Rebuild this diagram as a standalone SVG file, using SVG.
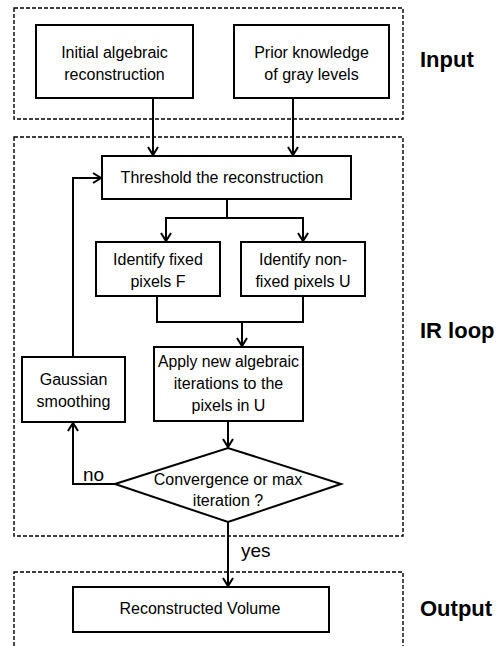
<svg xmlns="http://www.w3.org/2000/svg" width="498" height="646" viewBox="0 0 498 646">
<style>
.grp{fill:none;stroke:#000;stroke-width:1.4;stroke-dasharray:4 2}
.box{fill:#fff;stroke:#000;stroke-width:2}
.t{font-family:"Liberation Sans",Arial,sans-serif;font-size:16px;fill:#000;text-anchor:middle}
.lbl{font-family:"Liberation Sans",Arial,sans-serif;font-size:22px;font-weight:bold;fill:#000}
.yn{font-family:"Liberation Sans",Arial,sans-serif;font-size:19px;fill:#000}
.c{fill:none;stroke:#000;stroke-width:2;marker-end:url(#ah)}
.l{fill:none;stroke:#000;stroke-width:2}
</style>
<defs>
<marker id="ah" markerWidth="12" markerHeight="12" refX="10" refY="6" orient="auto" markerUnits="userSpaceOnUse">
<path d="M2,1 L10,6 L2,11" fill="none" stroke="#000" stroke-width="2"/>
</marker>
</defs>
<g id="group-input"><rect class="grp" x="14" y="8" width="389" height="111"/><text class="lbl" x="420" y="67">Input</text></g>
<g id="group-irloop"><rect class="grp" x="14" y="137" width="389" height="399"/><text class="lbl" x="420" y="338">IR loop</text></g>
<g id="group-output"><rect class="grp" x="14" y="572" width="389" height="80"/><text class="lbl" x="420" y="616">Output</text></g>
<g id="connectors">
<path class="c" d="M153,98 V155"/>
<path class="c" d="M293,98 V155"/>
<path class="l" d="M227,199 V218 M166,218 H303"/>
<path class="c" d="M166,217 V241"/>
<path class="c" d="M303,217 V241"/>
<path class="l" d="M157,296 V322 H303 V296"/>
<path class="c" d="M242,322 V346"/>
<path class="c" d="M228,421 V447"/>
<path class="c" d="M115,484 H73 V423"/>
<path class="c" d="M73,357 V178 H101"/>
<path class="c" d="M228,522 V586"/>
<text class="yn" x="83" y="481">no</text>
<text class="yn" x="241" y="557">yes</text>
</g>
<g id="n-initial"><rect class="box" x="36" y="25" width="157" height="73"/><text class="t" x="114.5" y="58">Initial algebraic</text><text class="t" x="114.5" y="80">reconstruction</text></g>
<g id="n-prior"><rect class="box" x="234" y="25" width="155" height="73"/><text class="t" x="311.5" y="58">Prior knowledge</text><text class="t" x="311.5" y="80">of gray levels</text></g>
<g id="n-threshold"><rect class="box" x="102" y="156" width="249" height="43"/><text class="t" x="222" y="183">Threshold the reconstruction</text></g>
<g id="n-fixed"><rect class="box" x="96" y="242" width="124" height="54"/><text class="t" x="158" y="265">Identify fixed</text><text class="t" x="158" y="287">pixels F</text></g>
<g id="n-nonfixed"><rect class="box" x="241" y="242" width="124" height="54"/><text class="t" x="303" y="265">Identify non-</text><text class="t" x="303" y="287">fixed pixels U</text></g>
<g id="n-apply"><rect class="box" x="154" y="347" width="149" height="74"/><text class="t" x="228.5" y="367" textLength="141" lengthAdjust="spacingAndGlyphs">Apply new algebraic</text><text class="t" x="228.5" y="389">iterations to the</text><text class="t" x="228.5" y="411">pixels in U</text></g>
<g id="n-gauss"><rect class="box" x="22" y="357" width="103" height="65"/><text class="t" x="73.5" y="385">Gaussian</text><text class="t" x="73.5" y="407">smoothing</text></g>
<g id="n-conv"><path class="box" d="M115,484 L228,448 L341,484 L228,522 Z"/><text class="t" x="228" y="485">Convergence or max</text><text class="t" x="228" y="506">iteration ?</text></g>
<g id="n-volume"><rect class="box" x="73" y="587" width="256" height="45"/><text class="t" x="200" y="614">Reconstructed Volume</text></g>
</svg>
